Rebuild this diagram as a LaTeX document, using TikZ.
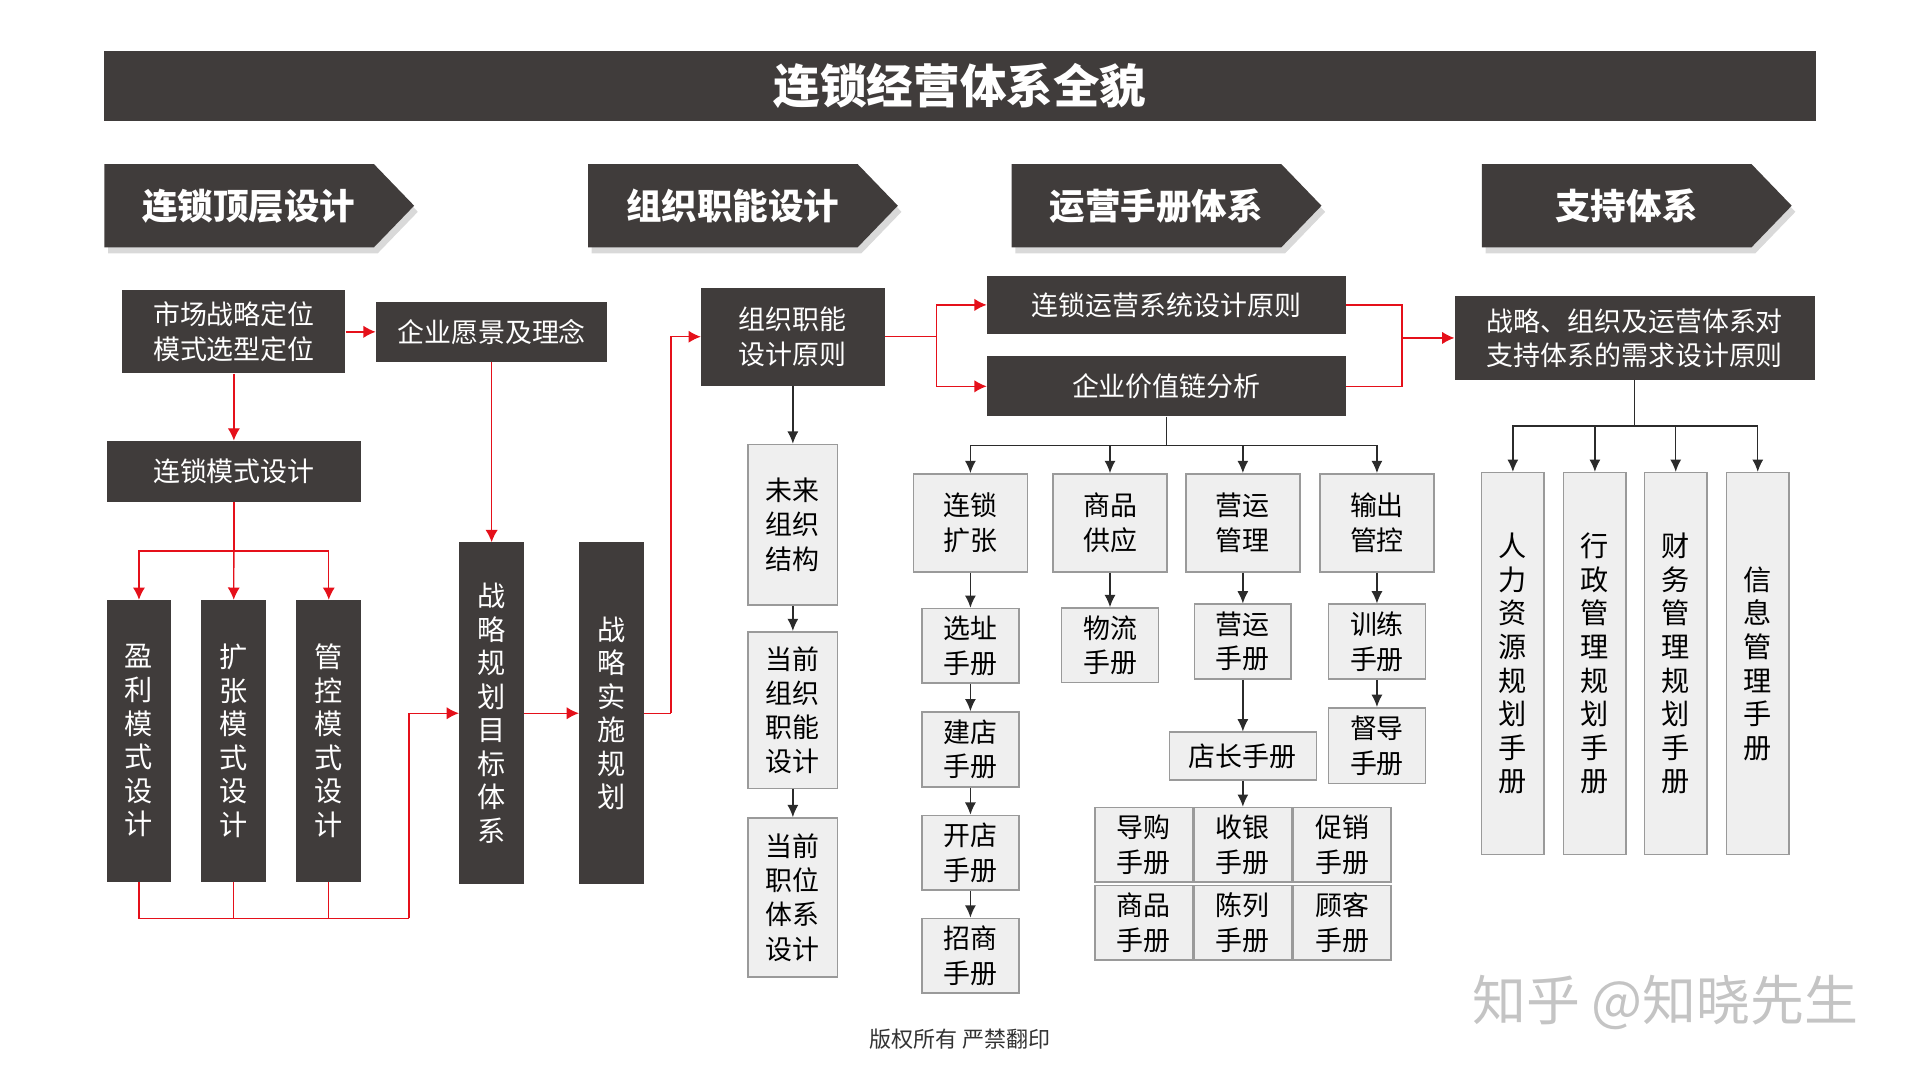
\documentclass[tikz,border=0pt]{standalone}
\usepackage{fontspec}
\setmainfont{Noto Sans CJK SC}
\usetikzlibrary{arrows.meta,shapes.symbols,shadows}

\definecolor{boxdark}{HTML}{403C3B}
\definecolor{boxlight}{HTML}{EFEFEF}
\definecolor{boxline}{HTML}{9A9A9A}
\definecolor{linkred}{HTML}{E5101A}
\definecolor{linkdark}{HTML}{2B2B2B}
\definecolor{markgray}{HTML}{C4C4C4}

\tikzset{
  darkbox/.style={fill=boxdark,text=white,inner sep=0pt,align=center,font=\fontsize{22}{28}\selectfont},
  lightbox/.style={draw=boxline,line width=1.3pt,fill=boxlight,inner sep=0pt,align=center,font=\fontsize{22}{28}\selectfont},
  boxsize/.style 2 args={minimum width=#1,minimum height=#2},
  vbox/.style={font=\fontsize{23}{27.4}\selectfont},
  header/.style={signal,signal to=east,signal pointer angle=92,fill=boxdark,text=white,inner sep=0pt,anchor=west,
    minimum width=253,minimum height=68,font=\bfseries\fontsize{29}{34}\selectfont,
    drop shadow={shadow xshift=3pt,shadow yshift=-5pt,opacity=0.3}},
  redline/.style={draw=linkred,line width=1.1pt},
  redarrow/.style={redline,-{Latex[length=10pt,width=10pt]}},
  darkline/.style={draw=linkdark,line width=1.1pt},
  darkarrow/.style={darkline,-{Latex[length=10pt,width=9pt]}}
}

\begin{document}
\begin{tikzpicture}[x=1pt,y=-1pt]
  \useasboundingbox (0,0) rectangle (1568,882);

  \node[darkbox,boxsize={1398}{57},font=\bfseries\fontsize{38}{44}\selectfont] (title) at (784,70.5) {连锁经营体系全貌};

  \node[header] (toplevel) at (85,168) {\hspace*{16pt}连锁顶层设计};
  \node[header] (orgdesign) at (480,168) {\hspace*{16pt}组织职能设计};
  \node[header] (manuals) at (826,168) {\hspace*{16pt}运营手册体系};
  \node[header] (support) at (1210,168) {\hspace*{16pt}支持体系};

  % chain top-level design
  \node[darkbox,boxsize={182}{68}] (market) at (191,271) {市场战略定位\\模式选型定位};
  \node[darkbox,boxsize={189}{49}] (vision) at (401.5,271) {企业愿景及理念};
  \node[darkbox,boxsize={208}{50}] (mode) at (191,385) {连锁模式设计};
  \node[darkbox,vbox,boxsize={53}{230}] (profit) at (113.5,605) {盈\\利\\模\\式\\设\\计};
  \node[darkbox,vbox,boxsize={53}{230}] (expand) at (190.5,605) {扩\\张\\模\\式\\设\\计};
  \node[darkbox,vbox,boxsize={53}{230}] (control) at (268.5,605) {管\\控\\模\\式\\设\\计};
  \node[darkbox,vbox,boxsize={53}{279}] (goal) at (401.5,582.5) {战\\略\\规\\划\\目\\标\\体\\系};
  \node[darkbox,vbox,boxsize={53}{279}] (carry) at (499.5,582.5) {战\\略\\实\\施\\规\\划};

  \coordinate (split1) at (191,450);
  \coordinate (join1) at (334,750);
  \coordinate (turn1) at (548,582.5);

  \draw[redarrow] (market) -- (vision);
  \draw[redarrow] (market) -- (mode);
  \draw[redline] (mode) -- (split1);
  \draw[redarrow] (split1) -| (profit);
  \draw[redarrow] (split1) -- (expand);
  \draw[redarrow] (split1) -| (control);
  \draw[redline] (profit) |- (join1);
  \draw[redline] (expand) |- (join1);
  \draw[redline] (control) |- (join1);
  \draw[redarrow] (join1) |- (goal);
  \draw[redarrow] (vision) -- (goal);
  \draw[redarrow] (goal) -- (carry);

  % organisation design
  \node[darkbox,boxsize={150}{80}] (orgrule) at (647.5,275) {组织职能\\设计原则};
  \node[darkbox,boxsize={293}{48}] (oprule) at (952.5,249) {连锁运营系统设计原则};
  \node[darkbox,boxsize={293}{49}] (valuechain) at (952.5,315.5) {企业价值链分析};
  \node[lightbox,boxsize={73}{131}] (future) at (647.5,428.5) {未来\\组织\\结构};
  \node[lightbox,boxsize={73}{128}] (nowfunc) at (647.5,580) {当前\\组织\\职能\\设计};
  \node[lightbox,boxsize={73}{130}] (nowpost) at (647.5,733) {当前\\职位\\体系\\设计};

  \coordinate (split2) at (765,275);

  \draw[redline] (carry.east) -- (turn1);
  \draw[redarrow] (turn1) |- (orgrule);
  \draw[redline] (orgrule) -- (split2);
  \draw[redarrow] (split2) |- (oprule);
  \draw[redarrow] (split2) |- (valuechain);
  \draw[darkarrow] (orgrule) -- (future);
  \draw[darkarrow] (future) -- (nowfunc);
  \draw[darkarrow] (nowfunc) -- (nowpost);

  % operation manuals
  \node[lightbox,boxsize={93}{80}] (grow) at (792.5,427) {连锁\\扩张};
  \node[lightbox,boxsize={93}{80}] (goods) at (906.5,427) {商品\\供应};
  \node[lightbox,boxsize={93}{80}] (operate) at (1015,427) {营运\\管理};
  \node[lightbox,boxsize={93}{80}] (output) at (1124.5,427) {输出\\管控};

  \node[lightbox,boxsize={79}{61}] (site) at (792.5,527.5) {选址\\手册};
  \node[lightbox,boxsize={79}{61}] (build) at (792.5,612) {建店\\手册};
  \node[lightbox,boxsize={79}{61}] (opening) at (792.5,696.5) {开店\\手册};
  \node[lightbox,boxsize={79}{61}] (invest) at (792.5,780.5) {招商\\手册};
  \node[lightbox,boxsize={79}{61}] (logistics) at (906.5,527) {物流\\手册};
  \node[lightbox,boxsize={79}{61}] (opbook) at (1015,524) {营运\\手册};
  \node[lightbox,boxsize={120}{39}] (manager) at (1015,617.5) {店长手册};
  \node[lightbox,boxsize={80}{61}] (guide) at (934,690) {导购\\手册};
  \node[lightbox,boxsize={80}{61}] (cashier) at (1015,690) {收银\\手册};
  \node[lightbox,boxsize={80}{61}] (promo) at (1096,690) {促销\\手册};
  \node[lightbox,boxsize={80}{61}] (product) at (934,753.5) {商品\\手册};
  \node[lightbox,boxsize={80}{61}] (display) at (1015,753.5) {陈列\\手册};
  \node[lightbox,boxsize={80}{61}] (customer) at (1096,753.5) {顾客\\手册};
  \node[lightbox,boxsize={79}{61}] (training) at (1124.5,524) {训练\\手册};
  \node[lightbox,boxsize={79}{62}] (supervise) at (1124.5,609) {督导\\手册};

  \coordinate (split3) at (952.5,364);

  \draw[darkline] (valuechain) -- (split3);
  \draw[darkarrow] (split3) -| (grow);
  \draw[darkarrow] (split3) -| (goods);
  \draw[darkarrow] (split3) -| (operate);
  \draw[darkarrow] (split3) -| (output);
  \draw[darkarrow] (grow) -- (site);
  \draw[darkarrow] (site) -- (build);
  \draw[darkarrow] (build) -- (opening);
  \draw[darkarrow] (opening) -- (invest);
  \draw[darkarrow] (goods) -- (logistics);
  \draw[darkarrow] (operate) -- (opbook);
  \draw[darkarrow] (opbook) -- (manager);
  \draw[darkarrow] (manager) -- (cashier);
  \draw[darkarrow] (output) -- (training);
  \draw[darkarrow] (training) -- (supervise);

  % support system
  \node[darkbox,boxsize={294}{68}] (needrule) at (1335,276) {战略、组织及运营体系对\\支持体系的需求设计原则};
  \node[lightbox,vbox,boxsize={51}{312}] (hr) at (1235.5,542) {人\\力\\资\\源\\规\\划\\手\\册};
  \node[lightbox,vbox,boxsize={51}{312}] (admin) at (1302.5,542) {行\\政\\管\\理\\规\\划\\手\\册};
  \node[lightbox,vbox,boxsize={51}{312}] (finance) at (1368.5,542) {财\\务\\管\\理\\规\\划\\手\\册};
  \node[lightbox,vbox,boxsize={51}{312}] (info) at (1435.5,542) {信\\息\\管\\理\\手\\册};

  \coordinate (join2) at (1145,276);
  \coordinate (split4) at (1335,348);

  \draw[redline] (oprule) -| (join2);
  \draw[redline] (valuechain) -| (join2);
  \draw[redarrow] (join2) -- (needrule);
  \draw[darkline] (needrule) -- (split4);
  \draw[darkarrow] (split4) -| (hr);
  \draw[darkarrow] (split4) -| (admin);
  \draw[darkarrow] (split4) -| (finance);
  \draw[darkarrow] (split4) -| (info);

  \node[text=black!80,font=\fontsize{18}{21}\selectfont] (rights) at (784,849) {版权所有 严禁翻印};
  \node[text=markgray,font=\fontsize{44}{50}\selectfont] (mark) at (1360,819) {知乎 @知晓先生};
\end{tikzpicture}
\end{document}
